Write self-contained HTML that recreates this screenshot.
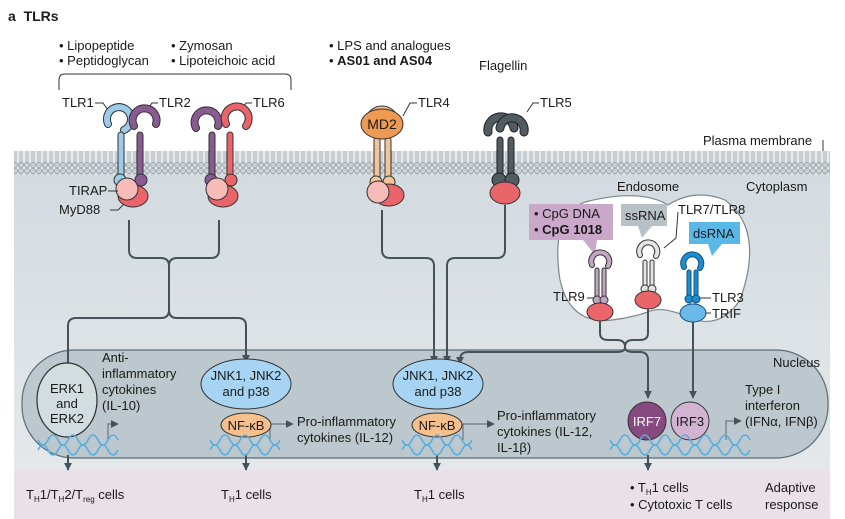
<!DOCTYPE html>
<html><head><meta charset="utf-8"><style>
html,body{margin:0;padding:0;background:#fff}
svg{display:block}
text{font-family:"Liberation Sans",sans-serif;font-size:13px;fill:#1a1a1a}
</style></head><body>
<svg width="845" height="519" viewBox="0 0 845 519" xmlns="http://www.w3.org/2000/svg">
<defs>
<linearGradient id="cyto" x1="0" y1="0" x2="0" y2="1">
<stop offset="0" stop-color="#d3dbe0"/><stop offset="1" stop-color="#e4e8eb"/></linearGradient>
<pattern id="lip" x="0" y="0" width="6" height="24" patternUnits="userSpaceOnUse">
<rect width="6" height="24" fill="#e6eaec"/>
<line x1="2" y1="3" x2="2" y2="21" stroke="#8f9ba1" stroke-width="0.7"/>
<line x1="4" y1="3" x2="4" y2="21" stroke="#8f9ba1" stroke-width="0.7"/>
<circle cx="3" cy="3" r="2.6" fill="#c9d1d5" stroke="#8f9ba1" stroke-width="0.7"/>
<circle cx="3" cy="21" r="2.6" fill="#c9d1d5" stroke="#8f9ba1" stroke-width="0.7"/>
</pattern>
<marker id="ar" markerWidth="8" markerHeight="8" refX="4" refY="6" orient="auto" markerUnits="userSpaceOnUse">
<path d="M0,0 L4,7 L8,0 Z" fill="#46525a" transform="rotate(-90 4 4)"/></marker>
<marker id="ad" viewBox="0 0 10 10" refX="9" refY="5" markerWidth="8" markerHeight="8" orient="auto" markerUnits="userSpaceOnUse">
<path d="M0,0 L10,5 L0,10 Z" fill="#46525a"/></marker>
</defs>

<!-- cytoplasm -->
<rect x="14" y="170" width="816" height="300" fill="url(#cyto)"/>
<!-- membrane -->
<rect x="14" y="151" width="816" height="24" fill="url(#lip)"/>
<!-- adaptive band -->
<rect x="14" y="470" width="816" height="49" fill="#e9e0e8"/>

<!-- nucleus -->
<rect x="22" y="350" width="806" height="108" rx="52" fill="#bdc8ce" stroke="#5d6c74" stroke-width="1.2"/>

<!-- header -->
<text x="8" y="21" style="font-weight:bold;font-size:14px">a&#160;&#160;TLRs</text>
<text x="59" y="50">• Lipopeptide</text>
<text x="59" y="65">• Peptidoglycan</text>
<text x="171" y="50">• Zymosan</text>
<text x="171" y="65">• Lipoteichoic acid</text>
<path d="M59,90 V80 Q59,74 65,74 H285 Q291,74 291,80 V90" fill="none" stroke="#333" stroke-width="1"/>
<text x="329" y="50">• LPS and analogues</text>
<text x="329" y="65"><tspan>• </tspan><tspan style="font-weight:bold">AS01 and AS04</tspan></text>
<text x="479" y="70">Flagellin</text>

<!-- labels -->
<text x="62" y="107">TLR1</text><path d="M95,103 H103 L108,110" fill="none" stroke="#333"/>
<text x="159" y="107">TLR2</text><path d="M158,103 H152 L147,110" fill="none" stroke="#333"/>
<text x="253" y="107">TLR6</text><path d="M252,103 H246 L241,110" fill="none" stroke="#333"/>
<text x="418" y="107">TLR4</text><path d="M417,103 H410 L403,116" fill="none" stroke="#333"/>
<text x="540" y="107">TLR5</text><path d="M539,103 H533 L527,112" fill="none" stroke="#333"/>
<text x="703" y="145">Plasma membrane</text><path d="M823,140 V151" stroke="#333"/>
<text x="617" y="191">Endosome</text>
<text x="746" y="191">Cytoplasm</text>

<!-- receptor generator: dark outline then color -->
<g stroke-linecap="round" fill="none">
<!-- TLR1 (blue) -->
<path d="M108,124 A12,12 0 1 1 124,130" stroke="#333" stroke-width="8"/>
<path d="M108,124 A12,12 0 1 1 124,130" stroke="#9fcbea" stroke-width="6"/>
<line x1="121" y1="135" x2="121" y2="180" stroke="#333" stroke-width="7"/>
<line x1="121" y1="135" x2="121" y2="180" stroke="#9fcbea" stroke-width="5"/>
<circle cx="120" cy="180" r="6" fill="#9fcbea" stroke="#333" stroke-width="1"/>
<!-- TLR2 (purple) -->
<path d="M134,126 A12,12 0 1 1 156,124" stroke="#333" stroke-width="8"/>
<path d="M134,126 A12,12 0 1 1 156,124" stroke="#8a5a93" stroke-width="6"/>
<line x1="140" y1="135" x2="140" y2="180" stroke="#333" stroke-width="7"/>
<line x1="140" y1="135" x2="140" y2="180" stroke="#8a5a93" stroke-width="5"/>
<circle cx="141" cy="180" r="6" fill="#8a5a93" stroke="#333" stroke-width="1"/>
<!-- TLR2 second (purple) -->
<path d="M196,128 A12,12 0 1 1 218,126" stroke="#333" stroke-width="8"/>
<path d="M196,128 A12,12 0 1 1 218,126" stroke="#8a5a93" stroke-width="6"/>
<line x1="212" y1="135" x2="212" y2="180" stroke="#333" stroke-width="7"/>
<line x1="212" y1="135" x2="212" y2="180" stroke="#8a5a93" stroke-width="5"/>
<circle cx="211" cy="180" r="6" fill="#8a5a93" stroke="#333" stroke-width="1"/>
<!-- TLR6 (red) -->
<path d="M226,124 A12,12 0 1 1 246,126" stroke="#333" stroke-width="8"/>
<path d="M226,124 A12,12 0 1 1 246,126" stroke="#e9656a" stroke-width="6"/>
<line x1="230" y1="135" x2="230" y2="180" stroke="#333" stroke-width="7"/>
<line x1="230" y1="135" x2="230" y2="180" stroke="#e9656a" stroke-width="5"/>
<circle cx="231" cy="180" r="6" fill="#e9656a" stroke="#333" stroke-width="1"/>
<!-- TLR4 -->
<path d="M370,128 A13,13 0 1 1 394,128" stroke="#333" stroke-width="9"/>
<path d="M370,128 A13,13 0 1 1 394,128" stroke="#f3c49a" stroke-width="7"/>
<line x1="377" y1="140" x2="377" y2="180" stroke="#333" stroke-width="7"/>
<line x1="377" y1="140" x2="377" y2="180" stroke="#f3c49a" stroke-width="5"/>
<line x1="388" y1="140" x2="388" y2="180" stroke="#333" stroke-width="7"/>
<line x1="388" y1="140" x2="388" y2="180" stroke="#f3c49a" stroke-width="5"/>
<circle cx="376" cy="182" r="6" fill="#f3c49a" stroke="#333" stroke-width="1"/>
<circle cx="389" cy="182" r="6" fill="#f3c49a" stroke="#333" stroke-width="1"/>
<!-- TLR5 -->
<path d="M488,132 A13,13 0 1 1 514,128" stroke="#222" stroke-width="9"/>
<path d="M488,132 A13,13 0 1 1 514,128" stroke="#505b62" stroke-width="7"/>
<path d="M500,128 A12,12 0 1 1 524,132" stroke="#222" stroke-width="9"/>
<path d="M500,128 A12,12 0 1 1 524,132" stroke="#505b62" stroke-width="7"/>
<line x1="500" y1="140" x2="500" y2="178" stroke="#222" stroke-width="7"/>
<line x1="500" y1="140" x2="500" y2="178" stroke="#505b62" stroke-width="5"/>
<line x1="511" y1="140" x2="511" y2="178" stroke="#222" stroke-width="7"/>
<line x1="511" y1="140" x2="511" y2="178" stroke="#505b62" stroke-width="5"/>
<circle cx="499" cy="180" r="7" fill="#505b62" stroke="#222" stroke-width="1"/>
<circle cx="512" cy="180" r="7" fill="#505b62" stroke="#222" stroke-width="1"/>
</g>
<ellipse cx="382" cy="124" rx="21" ry="15" fill="#ee9a52" stroke="#333"/>
<text x="382" y="129" text-anchor="middle" style="font-size:14px">MD2</text>
<!-- adaptors -->
<ellipse cx="133" cy="196" rx="15" ry="11" fill="#e9656a" stroke="#333"/>
<circle cx="127" cy="189" r="11" fill="#f7bcb8" stroke="#333"/>
<ellipse cx="223" cy="196" rx="15" ry="11" fill="#e9656a" stroke="#333"/>
<circle cx="217" cy="189" r="11" fill="#f7bcb8" stroke="#333"/>
<ellipse cx="389" cy="195" rx="15" ry="11" fill="#e9656a" stroke="#333"/>
<circle cx="378" cy="192" r="11" fill="#f7bcb8" stroke="#333"/>
<ellipse cx="505" cy="193" rx="15" ry="11" fill="#e9656a" stroke="#333"/>
<text x="69" y="195">TIRAP</text><path d="M108,191 H118" stroke="#333"/>
<text x="59" y="214">MyD88</text><path d="M110,210 H118 L124,204" fill="none" stroke="#333"/>

<!-- endosome -->
<path d="M585,202 Q640,188 668,205 Q695,188 725,200 Q765,230 740,300 Q720,330 690,318 Q662,305 648,312 Q630,318 612,320 Q570,325 560,280 Q550,215 585,202 Z" fill="#fff" stroke="#7a878e" stroke-width="1.2"/>
<rect x="529" y="204" width="84" height="36" fill="#c9a8c9"/>
<path d="M583,240 L595,255 L597,240 Z" fill="#c9a8c9"/>
<text x="534" y="218">• CpG DNA</text>
<text x="534" y="234"><tspan>• </tspan><tspan style="font-weight:bold">CpG 1018</tspan></text>
<rect x="621" y="204" width="46" height="22" fill="#b7c1c6"/>
<path d="M638,226 L642,238 L652,226 Z" fill="#b7c1c6"/>
<text x="625" y="220">ssRNA</text>
<rect x="689" y="222" width="51" height="22" fill="#5bb8e6"/>
<path d="M708,244 L712,256 L722,244 Z" fill="#5bb8e6"/>
<text x="693" y="238">dsRNA</text>
<text x="678" y="214">TLR7/TLR8</text><path d="M678,212 L676,238 L664,248" fill="none" stroke="#333"/>

<g stroke-linecap="round" fill="none">
<path d="M592,265 A9,9 0 1 1 608,266" stroke="#333" stroke-width="6"/>
<path d="M592,265 A9,9 0 1 1 608,266" stroke="#c3a6c4" stroke-width="4"/>
<line x1="597" y1="270" x2="597" y2="300" stroke="#333" stroke-width="5"/><line x1="597" y1="270" x2="597" y2="300" stroke="#c3a6c4" stroke-width="3"/>
<line x1="604" y1="270" x2="604" y2="300" stroke="#333" stroke-width="5"/><line x1="604" y1="270" x2="604" y2="300" stroke="#c3a6c4" stroke-width="3"/>
<path d="M640,255 A9,9 0 1 1 656,256" stroke="#333" stroke-width="6"/>
<path d="M640,255 A9,9 0 1 1 656,256" stroke="#e4e4e4" stroke-width="4"/>
<line x1="645" y1="262" x2="645" y2="290" stroke="#333" stroke-width="5"/><line x1="645" y1="262" x2="645" y2="290" stroke="#e4e4e4" stroke-width="3"/>
<line x1="652" y1="262" x2="652" y2="290" stroke="#333" stroke-width="5"/><line x1="652" y1="262" x2="652" y2="290" stroke="#e4e4e4" stroke-width="3"/>
<path d="M684,267 A9,9 0 1 1 700,268" stroke="#124e7a" stroke-width="6"/>
<path d="M684,267 A9,9 0 1 1 700,268" stroke="#1c8ed0" stroke-width="4"/>
<line x1="689" y1="272" x2="689" y2="300" stroke="#124e7a" stroke-width="5"/><line x1="689" y1="272" x2="689" y2="300" stroke="#1c8ed0" stroke-width="3"/>
<line x1="696" y1="272" x2="696" y2="300" stroke="#124e7a" stroke-width="5"/><line x1="696" y1="272" x2="696" y2="300" stroke="#1c8ed0" stroke-width="3"/>
</g>
<circle cx="597" cy="300" r="4" fill="#c3a6c4" stroke="#333"/><circle cx="604" cy="300" r="4" fill="#c3a6c4" stroke="#333"/>
<circle cx="645" cy="289" r="4" fill="#e4e4e4" stroke="#333"/><circle cx="652" cy="289" r="4" fill="#e4e4e4" stroke="#333"/>
<circle cx="689" cy="299" r="4" fill="#1c8ed0" stroke="#124e7a"/><circle cx="696" cy="299" r="4" fill="#1c8ed0" stroke="#124e7a"/>
<ellipse cx="600" cy="312" rx="13" ry="9" fill="#e9656a" stroke="#333"/>
<ellipse cx="648" cy="300" rx="13" ry="9" fill="#e9656a" stroke="#333"/>
<ellipse cx="693" cy="313" rx="13" ry="9" fill="#6ab9e8" stroke="#124e7a"/>
<text x="553" y="301">TLR9</text><path d="M587,298 H594" stroke="#333"/>
<text x="712" y="302">TLR3</text><path d="M700,298 H711" stroke="#333"/>
<text x="712" y="318">TRIF</text><path d="M706,313 H711" stroke="#333"/>

<!-- connectors -->
<g fill="none" stroke="#46525a" stroke-width="2">
<path d="M129,220 V250 Q129,258 137,258 H161 Q169,258 169,266 V310 Q169,318 161,318 H76 Q68,318 68,326 V390" marker-end="url(#ad)"/>
<path d="M219,220 V250 Q219,258 211,258 H177 Q169,258 169,266 V310 Q169,318 177,318 H238 Q246,318 246,326 V362" marker-end="url(#ad)"/>
<path d="M382,210 V250 Q382,258 390,258 H426 Q434,258 434,266 V363" marker-end="url(#ad)"/>
<path d="M505,205 V250 Q505,258 497,258 H455 Q447,258 447,266 V363" marker-end="url(#ad)"/>
<path d="M600,321 V333 Q600,340 608,340 H617 Q625,340 625,347 Q625,352 617,352 H468 Q460,352 460,360 V364" marker-end="url(#ad)"/>
<path d="M648,309 V333 Q648,340 640,340 H633 Q625,340 625,347 Q625,352 633,352 H640 Q648,352 648,360 V398" marker-end="url(#ad)"/>
<path d="M693,322 V398" marker-end="url(#ad)"/>
<path d="M68,455 V470" marker-end="url(#ad)"/>
<path d="M246,455 V470" marker-end="url(#ad)"/>
<path d="M437,455 V470" marker-end="url(#ad)"/>
<path d="M648,455 V470" marker-end="url(#ad)"/>
</g>
<g fill="none" stroke="#6b7880" stroke-width="1.2">
<path d="M108,440 V424 H118" marker-end="url(#ad)"/>
<path d="M270,440 V424 H293" marker-end="url(#ad)"/>
<path d="M463,440 V424 H494" marker-end="url(#ad)"/>
<path d="M726,440 V421 H741" marker-end="url(#ad)"/>
</g>

<!-- nucleus contents -->
<ellipse cx="67" cy="400" rx="30" ry="37" fill="#d3dcdf" stroke="#2d2d2d" stroke-width="1.2"/>
<text x="67" y="393" text-anchor="middle">ERK1</text>
<text x="67" y="408" text-anchor="middle">and</text>
<text x="67" y="423" text-anchor="middle">ERK2</text>
<text x="102" y="362">Anti-</text>
<text x="102" y="378">inflammatory</text>
<text x="102" y="394">cytokines</text>
<text x="102" y="410">(IL-10)</text>

<ellipse cx="246" cy="384" rx="45" ry="25" fill="#a7d4f2" stroke="#333"/>
<text x="246" y="380" text-anchor="middle">JNK1, JNK2</text>
<text x="246" y="396" text-anchor="middle">and p38</text>
<ellipse cx="246" cy="425" rx="25" ry="12" fill="#f6c08e" stroke="#333"/>
<text x="246" y="430" text-anchor="middle">NF-κB</text>
<text x="297" y="426">Pro-inflammatory</text>
<text x="297" y="442">cytokines (IL-12)</text>

<ellipse cx="438" cy="384" rx="45" ry="25" fill="#a7d4f2" stroke="#333"/>
<text x="438" y="380" text-anchor="middle">JNK1, JNK2</text>
<text x="438" y="396" text-anchor="middle">and p38</text>
<ellipse cx="437" cy="425" rx="25" ry="12" fill="#f6c08e" stroke="#333"/>
<text x="437" y="430" text-anchor="middle">NF-κB</text>
<text x="497" y="420">Pro-inflammatory</text>
<text x="497" y="436">cytokines (IL-12,</text>
<text x="497" y="452">IL-1β)</text>

<circle cx="647" cy="421" r="19" fill="#864a80" stroke="#333"/>
<text x="647" y="426" text-anchor="middle" style="fill:#fff">IRF7</text>
<circle cx="690" cy="421" r="19" fill="#d3b3d2" stroke="#333"/>
<text x="690" y="426" text-anchor="middle">IRF3</text>
<text x="745" y="394">Type I</text>
<text x="745" y="410">interferon</text>
<text x="745" y="426">(IFNα, IFNβ)</text>
<text x="773" y="367">Nucleus</text>

<!-- DNA -->
<g fill="none" stroke="#55aee0" stroke-width="1.6">
<path d="M38,440 q5,10 10,0 t10,0 t10,0 t10,0 t10,0 t10,0 t10,0 t10,0"/>
<path d="M38,450 q5,-10 10,0 t10,0 t10,0 t10,0 t10,0 t10,0 t10,0 t10,0"/>
<path d="M210,440 q5,10 10,0 t10,0 t10,0 t10,0 t10,0 t10,0 t10,0"/>
<path d="M210,450 q5,-10 10,0 t10,0 t10,0 t10,0 t10,0 t10,0 t10,0"/>
<path d="M402,440 q5,10 10,0 t10,0 t10,0 t10,0 t10,0 t10,0 t10,0"/>
<path d="M402,450 q5,-10 10,0 t10,0 t10,0 t10,0 t10,0 t10,0 t10,0"/>
<path d="M610,440 q5,10 10,0 t10,0 t10,0 t10,0 t10,0 t10,0 t10,0 t10,0 t10,0 t10,0 t10,0 t10,0 t10,0 t10,0"/>
<path d="M610,450 q5,-10 10,0 t10,0 t10,0 t10,0 t10,0 t10,0 t10,0 t10,0 t10,0 t10,0 t10,0 t10,0 t10,0 t10,0"/>
</g>

<!-- bottom -->
<text x="26" y="499">T<tspan style="font-size:8px" dy="3">H</tspan><tspan dy="-3">1/T</tspan><tspan style="font-size:8px" dy="3">H</tspan><tspan dy="-3">2/T</tspan><tspan style="font-size:8px" dy="3">reg</tspan><tspan dy="-3"> cells</tspan></text>
<text x="221" y="499">T<tspan style="font-size:8px" dy="3">H</tspan><tspan dy="-3">1 cells</tspan></text>
<text x="414" y="499">T<tspan style="font-size:8px" dy="3">H</tspan><tspan dy="-3">1 cells</tspan></text>
<text x="630" y="492">• T<tspan style="font-size:8px" dy="3">H</tspan><tspan dy="-3">1 cells</tspan></text>
<text x="630" y="509">• Cytotoxic T cells</text>
<text x="765" y="492">Adaptive</text>
<text x="765" y="509">response</text>
</svg>
</body></html>
